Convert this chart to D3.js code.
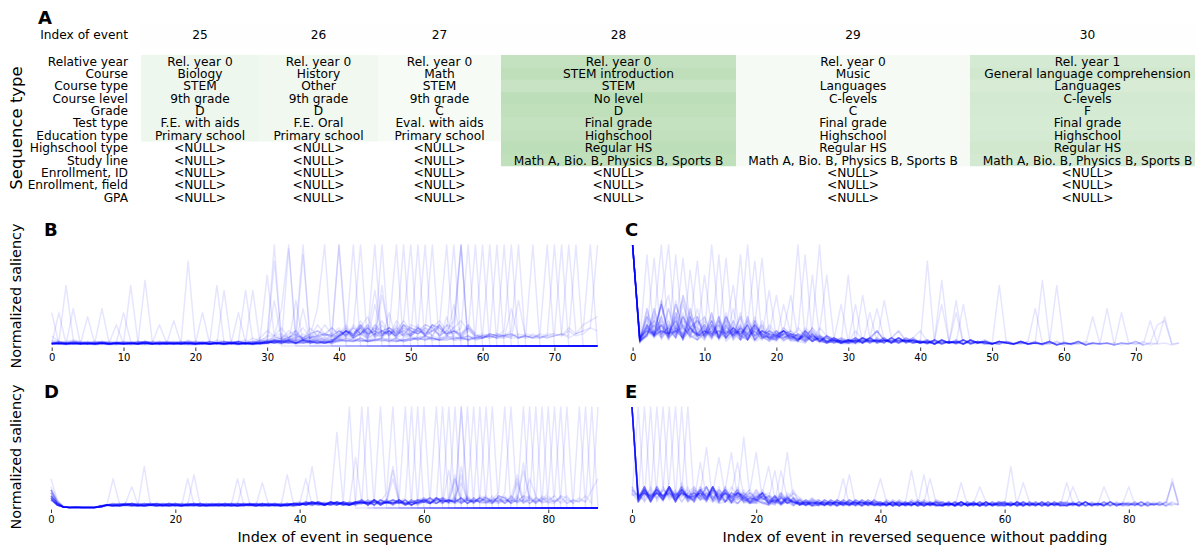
<!DOCTYPE html>
<html><head><meta charset="utf-8">
<script src="https://cdn.jsdelivr.net/npm/d3@7"></script>
<style>body{margin:0;background:#fff}svg{display:block}text{font-family:"DejaVu Sans",sans-serif}</style>
</head><body><svg id="c" width="1195" height="546"></svg>
<script>
// ---------------- DATA ----------------
const eventIndex = [25, 26, 27, 28, 29, 30];
const rowLabels = ["Relative year","Course","Course type","Course level","Grade","Test type","Education type","Highschool type","Study line","Enrollment, ID","Enrollment, field","GPA"];
const N = "<NULL>";
const col25 = ["Rel. year 0","Biology","STEM","9th grade","D","F.E. with aids","Primary school",N,N,N,N,N];
const col26 = ["Rel. year 0","History","Other","9th grade","D","F.E. Oral","Primary school",N,N,N,N,N];
const col27 = ["Rel. year 0","Math","STEM","9th grade","C","Eval. with aids","Primary school",N,N,N,N,N];
const col28 = ["Rel. year 0","STEM introduction","STEM","No level","D","Final grade","Highschool","Regular HS","Math A, Bio. B, Physics B, Sports B",N,N,N];
const col29 = ["Rel. year 0","Music","Languages","C-levels","C","Final grade","Highschool","Regular HS","Math A, Bio. B, Physics B, Sports B",N,N,N];
const col30 = ["Rel. year 1","General language comprehension","Languages","C-levels","F","Final grade","Highschool","Regular HS","Math A, Bio. B, Physics B, Sports B",N,N,N];
const sal25 = [0.13,0.13,0.13,0.13,0.13,0.13,0.13,0,0,0,0,0];
const sal26 = [0.11,0.11,0.11,0.11,0.11,0.11,0.11,0,0,0,0,0];
const sal27 = [0.07,0.07,0.07,0.07,0.07,0.07,0.07,0,0,0,0,0];
const sal28 = [0.46,0.50,0.44,0.52,0.49,0.46,0.48,0.52,0.49,0,0,0];
const sal29 = [0.08,0.08,0.08,0.08,0.08,0.08,0.08,0.08,0.08,0,0,0];
const sal30 = [0.33,0.36,0.31,0.34,0.33,0.32,0.33,0.36,0.34,0,0,0];
const salHeader = [0.012,0.012,0.012,0.012,0.012,0.012];

const xMaxBC = 76, xMaxDE = 88;
const ticksBC = [0,10,20,30,40,50,60,70];
const ticksDE = [0,20,40,60,80];

// codebook: one character per event -> normalized saliency
const LEVELS = {"0":0,"1":0.005,"2":0.01,"3":0.02,"4":0.03,"5":0.045,"6":0.06,"7":0.08,"8":0.1,"9":0.12,
  "a":0.15,"b":0.18,"c":0.21,"d":0.25,"e":0.29,"f":0.33,"g":0.37,"h":0.41,"i":0.45,"j":0.5,"k":0.55,
  "l":0.6,"m":0.65,"n":0.7,"o":0.75,"p":0.8,"q":0.84,"r":0.87,"s":0.9,"t":0.92,"u":0.94,"v":0.96,
  "w":0.97,"x":0.98,"y":0.99,"z":1};

const seriesB = [
"8543435432 4534354435 3435453546 7z00000000 0000000000 0000000000 0000000000 0000000",
"4356434543 3l54435436 4543545357 a8gz000000 0000000000 0000000000 0000000000 0000000",
"35l6543434 4345434543 4354345375 88b7az0000 0000000000 0000000000 0000000000 0000000",
"4345434434 343m554345 3435435436 5779a68gz0 0000000000 0000000000 0000000000 0000000",
"6545434545 4534345434 5436545646 n897a6b8c9 z000000000 0000000000 0000000000 0000000",
"4345434343 434534544q 5434345435 6787979a89 b7z0000000 0000000000 0000000000 0000000",
"3434543434 5435434345 434l435435 6q7a8b7c98 a9bz000000 0000000000 0000000000 0000000",
"5434345434 f545434543 3454345k54 5676787989 7a8b9z0000 0000000000 0000000000 0000000",
"3454343454 3435434354 3434543454 45676s7898 a8c9b8z000 0000000000 0000000000 0000000",
"4345434543 4345434345 4353454345 5i68797a8b 9c8d9a8bz0 0000000000 0000000000 0000000",
"4543454345 3454345434 5434543454 465v879a9b 8a9c8b9a8z 0000000000 0000000000 0000000",
"3435343443 4343534343 4353434345 5657565766 8a9c8a9bad z000000000 0000000000 0000000",
"4543434543 5434354345 4354345434 6576877897 z9a8b9c8da 8z00000000 0000000000 0000000",
"3434543434 3454343454 3434543434 5656767878 8989a9a8b9 baz0000000 0000000000 0000000",
"5434345434 3434543454 3454345434 5867968798 a8b9cad9b8 cbaz000000 0000000000 0000000",
"3435343434 5434343454 3434354343 4565676767 9a8c9bab9c a9bacz0000 0000000000 0000000",
"4343434543 4345434343 5434343454 5656667676 8a9b8cab9a bacbdaz000 0000000000 0000000",
"3434353434 3435343434 3534343435 4545464546 7a8b6h9a8c 9b8a9c8z00 0000000000 0000000",
"4343434343 4354343434 4343543434 5454i45654 8a7c9a8b9d a9cb8adz00 0000000000 0000000",
"f323332323 3232323332 2333232323 3434344343 6879688a79 8a9b8cbz00 0000000000 0000000",
"3434343434 3435343434 3434343534 4656575868 6979797a8a 8b9c8a9bz0 0000000000 0000000",
"4343434353 4343534343 4343435343 5454655454 8a79b8j9a8 9b8ca9bdaz 0000000000 0000000",
"343g343434 3434353434 3434343434 4545465456 7a8b79a8c9 9a8cb9a8b9 z000000000 0000000",
"3434353434 3434343434 3534343434 45464g4545 8a79b8a9a8 8b9ac8a9b7 8z00000000 0000000",
"4343434g43 4353434343 4343434343 5455465455 9b8a7c9a8b a9b8c9a7b8 88z0000000 0000000",
"34343e3434 3434343434 3434343434 4545464545 8a9be98a7c 9c8ab9a8c9 787z000000 0000000",
"3534343434 3434343534 3434343434 4546454545 8b7a9k8a9c b9a8c9b7a8 898az00000 0000000",
"3434343434 3434343d34 3434353434 4545454645 a8b9c7a98b 8a9cb8a9c8 7898az0000 0000000",
"3433343434 3434334344 3434343343 4654456545 5765667f56 7687667786 7988978z00 0000000",
"3443434334 3434343443 3f34434343 5465445654 6657566575 6876786677 798897879z 0000000",
"3434433434 4343434334 3443k34343 4556465445 7566576657 8677687768 9877898779 9z00000",
"4334343434 3443434343 433434f434 4545465456 655656l656 7786678687 7879887978 898z000",
"3434343434 4343434343 34343434k4 5446545465 5657565766 676767h767 8798779887 8979az0",
"3f34343434 3434343434 3434343434 4654456545 6576557665 67676e6767 7988978798 98a89bz",
"434343434c 3434343434 4343434343 5465445654 5765667556 6768776867 8787g78787 89z9aba",
"3434343434 43434c4343 3434343434 4556465445 6657566575 7687667786 78787i7878 z8b9cde"
];
const seriesC = [
"z4g9c6hb8e 7ac59b6a87 6975486453 46",
"z5s8d7ab9g 6c8f7b9576 8a67495854 3564",
"z7ar6c9eb7 a8d69c7b85 7956a86457 435645",
"z6bdz8f7a9 c7e8b96a78 69a7586745 4547a6545",
"z58ahz9c7e 8b6d9a7c85 a796857564 6564756475 4",
"z4c9e7s8bd a97c8b6d79 8a65978546 5746574654 564",
"z6ebh8arc8 9b7ea86c97 5a87695464 6476547564 5453",
"z5c7a9e6ob 8d69b7a8c6 7985a67454 5467a56475 453645",
"z6a8d7b9cq 8f7e96d8c7 9586a74756 4675465746 5453543",
"z7g9e8hc79 nb8d6a9c78 6a97586475 6475647a54 645354643",
"z59c7ad8b6 9zd7a8c69b 7a86958564 5a64756475 4635453645",
"z6d8i9a7e9 c8s7a9b6d8 69a7857465 6547564756 4635463543 4",
"z8a7c9fb86 d9ar7f8a6c 9785a67546 5756a65475 4635463546 43",
"z59e8gahb9 7d8bl69c7a 8679586574 6475647a65 4536453645 354",
"z7c8a9d6b8 e9b7as8a69 7b96857465 5647564756 4536453645 3543",
"z5f9c7i8bd 8a9c7bz9b6 8a69758756 6574657465 4536453645 354354",
"z68d9b7ca9 b7e8a9cq86 9a78695475 4657465746 5463546354 3543534",
"z7b8ej9f86 9d7a8b9cr7 a6987b5864 5746574657 4635463546 35435343",
"z59a7c8eb9 6c8b9a7d8k 7a96857564 6475647564 5364536453 43534352",
"z6e8h9a7g8 a9c7b6d8a9 j7985a6475 5647a64756 4536453645 354353435",
"z7a9c6b8d9 8f7ea69e87 6h98a75864 6574657465 5463546354 3543534352",
"z48g9b7je8 a7d9b86c97 8aj7958675 4657465746 5364536453 4353435243 3",
"z6b8a9d7cb 9a7c8e6b9a 87az695847 5746574657 4536453645 3543534352 43",
"z7c9h8ei96 b8a9d7c68a 968as75867 6475647564 5463546354 3543534352 434",
"z5a8c9b7de 7c9e6b8d79 a8796n8575 5647564756 4536453645 4354353435 2434",
"z69d7g8e9c e8a7b9c6a8 7a986bz765 6574657465 5364536453 4353435243 52434",
"z7b9a8c6ea 9d7b8a6c97 8a7695an75 4657465746 5463546354 3543534352 435243",
"z58f9d7jb8 a6c9b8e7a9 7b869a756h 5746574657 a536453645 3543534352 43524342",
"z6c8b7a9e8 c9a7g6b8a9 8796a75864 n475647564 5463546354 3543534352 4352434243",
"z7a9h8e6g9 a8d7b9c6a8 9a7b869574 5h47564756 4q36453645 435435g435 2435243424 34",
"z59c8a7db8 9e7a8c6b97 a8697b8564 65j7465746 546m546354 354353435l 4352434243 5243",
"z6b8i9a7f9 8c7a9e6b8a 7986a95746 574f574657 45364i3645 3l43534352 4352e34243 524cd3",
"z7e8a9c6b8 a9e7d8c6a9 8a7596b875 64756i7564 546h54h354 3543534m52 435243g243 52d3424",
"z58g9b7e8d b7a9c6e8a7 9a86b97564 5647g64756 45364f3645 3543534352 43524342f4 3524e34"
];
const seriesD = [
"e721111123 4543434534 4343543454 4354543454 453546o5z0 0000000000 0000000000 0000000000 000000000",
"9521111124 e543434543 4354345434 5434543454 45h4564656 z000000000 0000000000 0000000000 000000000",
"b631211134 3453454345 4345434543 4543455445 5465446546 6z00000000 0000000000 0000000000 000000000",
"8421111143 435c454345 4345434534 3454453545 6454465546 576z000000 0000000000 0000000000 000000000",
"a521211134 4345434543 43e4345434 5435443545 4655465546 7566az0000 0000000000 0000000000 000000000",
"7421111124 43454h4543 4345434543 4543544535 5564456465 6475657z00 0000000000 0000000000 000000000",
"c721111134 3454345434 5434543454 3445534454 4645565446 56476568z0 0000000000 0000000000 000000000",
"9521211123 4345434543 434f434543 4543445345 5456544655 647567657z 0000000000 0000000000 000000000",
"8421111134 3454345434 5434543454 e454435454 4565456546 7564675746 z000000000 0000000000 000000000",
"b621111124 4345434543 4345434543 4e43544345 5465546456 6574657465 78z0000000 0000000000 000000000",
"9521111134 3454345434 5434543454 3454d45443 4556465545 5675647657 657z000000 0000000000 000000000",
"7421211124 4345434543 4345434543 45434543f5 6454656445 6475756467 7586z00000 0000000000 000000000",
"a521111134 3454345434 5434543454 3454453445 5e45564654 5746576475 68675z0000 0000000000 000000000",
"8421111124 3445434354 4354354435 5443544345 4565454656 6574676547 765876z000 0000000000 000000000",
"9521111134 4354354435 3544345443 3445434354 5456546545 7564657546 8576758z00 0000000000 000000000",
"7421211124 5443544345 3445434354 4354354435 465546545j 5647565746 67586768z0 0000000000 000000000",
"b621111134 3544345443 5443544345 3445434354 5546454656 65576e6475 786576857z 0000000000 000000000",
"8421111124 4345434543 3544345443 5443544345 4655465445 74656h7564 6578675768 z000000000 000000000",
"9521111134 3445434354 4345434543 3544345443 5465545465 65647g5746 7586768576 9z00000000 000000000",
"7421211124 4354354435 5443544345 4345434543 4556454654 7465675647 657867f586 87az000000 000000000",
"a521111134 5443544345 3445434354 3454345434 5465456545 6574656475 86758f7968 676az00000 000000000",
"8421111124 3454345434 4354354435 5443544345 4546554645 5647576546 7586768576 869857z000 000000000",
"9521111134 4345434543 5434543454 3445434354 5654465546 6475647567 865769d768 6598576z00 000000000",
"7421211124 3544345443 4543454345 4354354435 4565546454 7564657465 65785e6857 76857698z0 000000000",
"b621111134 5434543454 3445434354 5443544345 5456465545 6547565746 7685g67586 695768675z 000000000",
"8421111124 4543454345 3454345434 3544345443 4655454656 5746576457 6857686759 867596i576 z00000000",
"9521111134 3445434354 4354354435 4345434543 5546545465 6475647564 7586768576 58696e5867 az0000000",
"7421211124 5443544345 4543454345 3454345434 4565465545 5674657546 6857675867 7596857e95 79z000000",
"a521111134 4354354435 3544345443 5434543454 5456456546 7465746576 758675h685 6785967586 968z00000",
"8421111124 3454345434 5443544345 4543454345 4654556454 5647565746 6785768576 95768f7968 57695z000",
"9521111134 4543454345 4354354435 3445434354 5545465546 6574657465 7586756867 57685d6857 869576z00",
"7421211124 3445434354 5434543454 3544345443 4565546545 6475746567 6857685768 8657695768 6598576z0",
"b621111134 4345434543 3454345434 4354354435 5465454656 5647565746 76576e5768 659857g859 76857695z",
"8421111124 5434543454 4345434543 5443544345 4556465545 6574657465 658756z758 7685769586 6957686be"
];
const seriesE = [
"z69b7c8a6a 98a7569b65 7548563645 5364536453 4635463546 3546354",
"9z6a8b97c8 7b869a5876 5647586456 6475647564 5463546354 4536453645 35463",
"b8z9a7c6b8 a96b7a8596 7648563754 5647564756 6453645364 3546354635 5364536453 463",
"c97z6b9a8c 697b8a6587 6945876453 4756475647 5364536453 4635463546 6453645364 3546354635 536453645",
"a6b8zc7a9b 8a6c975a68 7564857463 7564756475 4635463546 5463546354 4536453645 3546354",
"b8a7cz9b6a c8795a8b76 5867495645 6453645364 5463546354 3546354635 6453645364 45364536",
"9a6c8bz8a7 9b6c8a7596 8a57468536 5463546354 6475647564 4635463546 5364",
"c8b9a7dz9a 6b8c7a5968 7546958463 4536453645 5647564756 3546354",
"a7c6b9a8z8 b7a96c8a57 9658476547 3546354635 4756475647 5364536453 4635463546 54635463",
"b9a7c8b6az 7a9c6b8795 6a57486573 6475647564 3546354635 4536453645 6453645364",
"z8b6c9a7b9 6i8a7b9586 7a56485736 5647564756 5364536453 6453645364 4h35463546 5463546354 453645",
"z7c6a9b8c7 8al69b7a85 6974857563 4756475647 4635463546 5364536453 354635",
"z9a7b8c6a9 7b8aj96b75 8a69574653 7564756475 5463546354 45364536",
"z6b9c7a8b9 a78c9bk7a6 9857694865 6453645364 4536453645 3546354635 5364536453 4635",
"z7a8b9c6b8 9a7c86ai95 8a76958475 5463546354 6475647564 4635463546 3546354635 6453645364 5463546",
"z8c6b7a9c8 7b9a86c9n8 7a59684758 4536453645 5647564756 5463546354 4635463546 5364536453 354",
"z6a9b8c7a8 9b7c6a8a9b k798a56746 3546354635 4756475647 6453645364 5364536453 4536453645 463546354",
"z9b8a7c9b6 a8c7b96a89 7ah8596475 6475647564 5364536453 3546354635 4635463546 645",
"z7a6c9b8a9 7c8b6a9a78 697g586546 5647564756 6453645364 4536453645 5463",
"z8b7a9c6b8 9a7c8b69a8 7a96g85647 4756475647 4635463546 5463546354 3546354635 5364536453 64536453",
"z6c8a7b9c6 8a9b7c6a89 79a68k7564 7564756475 3546354635 4635463546 6453645364 4536453645 5463546d4",
"z7a9b8c7a6 b9c8a69b78 a85967a846 6475e47564 5463546354 5364536453 4536453645 3546354635",
"z8b6a7c9b8 a79c8b6a97 8a6958b564 56475f4756 6453645364 3546354635 5463546354 4635463546 5364",
"z6a8b9c7a9 6b8c7a98a6 b7965a8746 4756475647 e635463546 6453645364 5364536453 4536453",
"z9c7a8b6a9 8bc7a6a98a 7869586475 6453645364 53645g6453 4536453645 3546354635 5463546354 463546",
"z7b8a6c9b7 a9c8b6a985 a796857465 5463546354 4536453f45 6453645364 4635463546 3546354635 5",
"z6a9b7c8a9 6c8ba7a968 b86957a564 4635463546 35463546e5 5364536453 6453645364 4536453645 54635",
"z8b6a9c7b8 9a7c6b8a9a 7985a66458 5364536453 6453645364 463d463546 5463546354 3546354635 45364536",
"z7c9b8a6c9 8a7b9a6c86 9a75868547 6475647564 4635463546 354635c635 5364536453 6453645364 453645364",
"z9a6c8b7a8 c9b7a6a8b7 6985a76574 4756475647 5463546354 4536453645 645d645364 35463",
"z6b8a7c9b9 a7c6b89a7a 8b76957465 5647564756 3546354635 6453645364 4536453645 5c6354c635 4635463e4",
"z8c7b9a6d8 b9a7c68a9b 7a58976457 7564756475 5364536453 4635463546 5463546354 d536453645 c463546d6"
];

// ---------------- DRAWING ----------------
const svg = d3.select("#c");
const FONT = "DejaVu Sans, sans-serif";
const decode = s => s.replace(/\s+/g, "").split("").map(c => LEVELS[c]);

// ---- Panel A: table ----
const columns = [col25, col26, col27, col28, col29, col30];
const saliency = [sal25, sal26, sal27, sal28, sal29, sal30];
const colUnits = [118, 119, 123, 235, 234, 235];
const tableLeft = 141, rowTop = 55, rowH = 12.37, fs = 12.2;
const edges = [tableLeft];
colUnits.forEach(w => edges.push(edges[edges.length - 1] + w));
const green = v => d3.interpolateRgb("#ffffff", "#7fbf77")(v);
const A = svg.append("g");

A.append("text").attr("x", 38).attr("y", 24).attr("font-size", 18).attr("font-weight", "bold").text("A");
A.append("text").attr("x", 128).attr("y", 35).attr("dy", "0.35em").attr("text-anchor", "end")
  .attr("font-size", fs).text("Index of event");

columns.forEach((col, c) => {
  const x0 = edges[c], x1 = edges[c + 1], cx = (x0 + x1) / 2;
  A.append("rect").attr("x", x0).attr("y", 24).attr("width", x1 - x0 + 0.5).attr("height", 23)
    .attr("fill", green(salHeader[c]));
  A.append("text").attr("x", cx).attr("y", 35).attr("dy", "0.35em").attr("text-anchor", "middle")
    .attr("font-size", fs).text(eventIndex[c]);
  col.forEach((t, r) => {
    A.append("rect").attr("x", x0).attr("y", rowTop + r * rowH).attr("width", x1 - x0 + 0.5)
      .attr("height", rowH + 0.5).attr("fill", green(saliency[c][r]));
  });
  col.forEach((t, r) => {
    A.append("text").attr("x", cx).attr("y", rowTop + r * rowH + rowH / 2).attr("dy", "0.36em")
      .attr("text-anchor", "middle").attr("font-size", fs).attr("fill", "#000").text(t);
  });
});
rowLabels.forEach((t, r) => {
  A.append("text").attr("x", 128).attr("y", rowTop + r * rowH + rowH / 2).attr("dy", "0.36em")
    .attr("text-anchor", "end").attr("font-size", fs).text(t);
});
A.append("text").attr("transform", "translate(22,128) rotate(-90)").attr("text-anchor", "middle")
  .attr("font-size", 16.5).text("Sequence type");

// ---- Panels B-E ----
const panels = [
  {letter: "B", series: seriesB, xmax: xMaxBC, ticks: ticksBC, x0: 51.7, x1: 597.5, top: 245, bot: 346, lx: 44, ly: 236},
  {letter: "C", series: seriesC, xmax: xMaxBC, ticks: ticksBC, x0: 632.6, x1: 1179, top: 245, bot: 346, lx: 625, ly: 236},
  {letter: "D", series: seriesD, xmax: xMaxDE, ticks: ticksDE, x0: 51, x1: 598, top: 407, bot: 508, lx: 44, ly: 398},
  {letter: "E", series: seriesE, xmax: xMaxDE, ticks: ticksDE, x0: 632, x1: 1178.5, top: 407, bot: 508, lx: 625, ly: 398}
];

panels.forEach(p => {
  const g = svg.append("g");
  const x = d3.scaleLinear().domain([0, p.xmax]).range([p.x0, p.x1]);
  const y = d3.scaleLinear().domain([0, 1]).range([p.bot, p.top]);
  const line = d3.line().defined(d => d !== undefined).x((d, i) => x(i)).y(d => y(d));
  const data = p.series.map(decode).map(a => a.slice(0, p.xmax + 1));
  g.selectAll("path.s").data(data).join("path").attr("class", "s")
    .attr("d", line).attr("fill", "none").attr("stroke", "#0000ff")
    .attr("stroke-opacity", 0.1).attr("stroke-width", 1.5).attr("stroke-linejoin", "round");
  const ax = g.append("g").attr("transform", `translate(0,${p.bot + 1.5})`)
    .call(d3.axisBottom(x).tickValues(p.ticks).tickSize(3.5).tickPadding(2.5).tickFormat(d3.format("d")));
  ax.select(".domain").remove();
  ax.selectAll("line").attr("stroke", "#000").attr("stroke-width", 0.8);
  ax.selectAll("text").attr("font-size", 10).attr("font-family", FONT).attr("fill", "#000");
  g.append("text").attr("x", p.lx).attr("y", p.ly).attr("font-size", 18).attr("font-weight", "bold").text(p.letter);
});

svg.append("text").attr("transform", "translate(21,296) rotate(-90)").attr("text-anchor", "middle")
  .attr("font-size", 14.4).text("Normalized saliency");
svg.append("text").attr("transform", "translate(21,457) rotate(-90)").attr("text-anchor", "middle")
  .attr("font-size", 14.4).text("Normalized saliency");
svg.append("text").attr("x", 335).attr("y", 542).attr("text-anchor", "middle")
  .attr("font-size", 14.4).text("Index of event in sequence");
svg.append("text").attr("x", 915).attr("y", 542).attr("text-anchor", "middle")
  .attr("font-size", 14.4).text("Index of event in reversed sequence without padding");
</script></body></html>
